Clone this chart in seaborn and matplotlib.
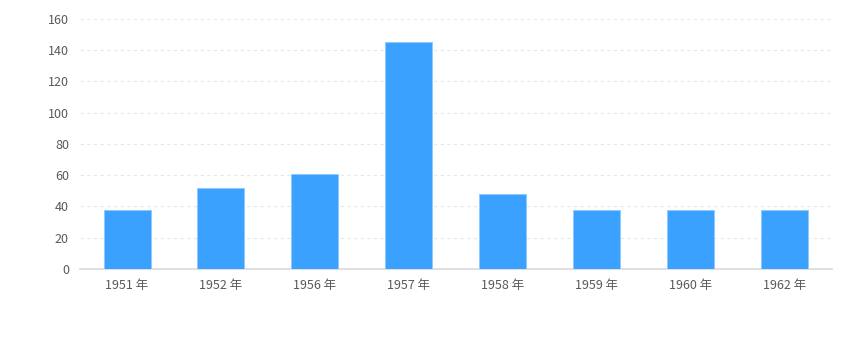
import seaborn as sns
import matplotlib.pyplot as plt

years = ['1951 年', '1952 年', '1956 年', '1957 年', '1958 年', '1959 年', '1960 年', '1962 年']
sales = [38, 52, 61, 145, 48, 38, 38, 38]
y_ticks = [0, 20, 40, 60, 80, 100, 120, 140, 160]

sns.set_style("white")
plt.rcParams['font.family'] = ['Noto Sans CJK SC', 'DejaVu Sans']

fig = plt.figure(figsize=(8.52, 3.64), dpi=100)
ax = fig.add_axes([0.0939, 0.261, 0.8826, 0.687])

sns.barplot(x=years, y=sales, color="#3aa1ff", saturation=1, width=0.5,
            edgecolor="#8cc8ff", linewidth=0.6, ax=ax, zorder=3)

ax.set_ylim(0, 160)
ax.set_xlim(-0.5, len(years) - 0.5)
ax.set_yticks(y_ticks)
ax.set_yticklabels([str(t) for t in y_ticks])
ax.yaxis.grid(True, color="#e8e8e8", linestyle=(0, (3, 3)), linewidth=0.8, zorder=0)
ax.xaxis.grid(False)

sns.despine(ax=ax, left=True, top=True, right=True)
ax.spines['bottom'].set_color("#d9d9d9")
ax.spines['bottom'].set_linewidth(1.2)

ax.tick_params(axis='x', length=4, width=1, color="#d9d9d9", labelsize=9, labelcolor="#595959", pad=3)
ax.tick_params(axis='y', length=0, labelsize=9, labelcolor="#595959", pad=8)
ax.set_xlabel("")
ax.set_ylabel("")

fig.savefig("out.png", dpi=100)
